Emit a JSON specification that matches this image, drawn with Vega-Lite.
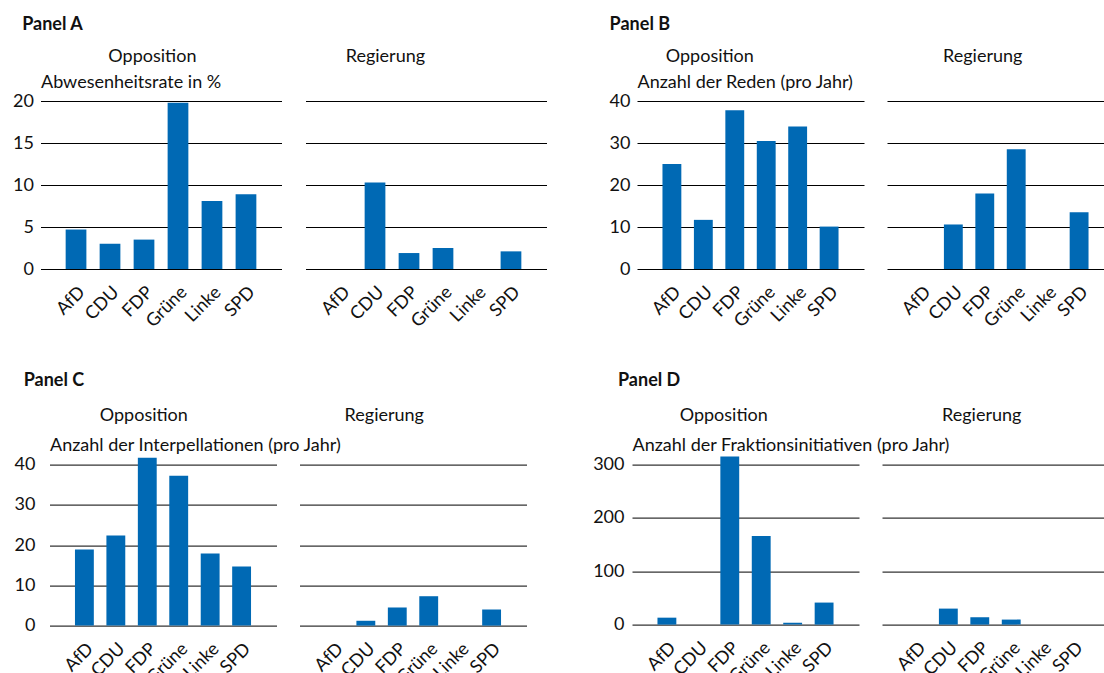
{
  "$schema": "https://vega.github.io/schema/vega-lite/v6.json",
  "padding": {"left": 11.5, "top": 15, "right": -11, "bottom": -8},
  "background": "white",
  "data": {"values": [
    {"panel": "A", "side": "Opposition", "party": "AfD", "value": 4.7},
    {"panel": "A", "side": "Opposition", "party": "CDU", "value": 3.0},
    {"panel": "A", "side": "Opposition", "party": "FDP", "value": 3.5},
    {"panel": "A", "side": "Opposition", "party": "Grüne", "value": 19.8},
    {"panel": "A", "side": "Opposition", "party": "Linke", "value": 8.1},
    {"panel": "A", "side": "Opposition", "party": "SPD", "value": 8.9},
    {"panel": "A", "side": "Regierung", "party": "AfD", "value": 0},
    {"panel": "A", "side": "Regierung", "party": "CDU", "value": 10.3},
    {"panel": "A", "side": "Regierung", "party": "FDP", "value": 1.9},
    {"panel": "A", "side": "Regierung", "party": "Grüne", "value": 2.5},
    {"panel": "A", "side": "Regierung", "party": "Linke", "value": 0},
    {"panel": "A", "side": "Regierung", "party": "SPD", "value": 2.1},
    {"panel": "B", "side": "Opposition", "party": "AfD", "value": 25.0},
    {"panel": "B", "side": "Opposition", "party": "CDU", "value": 11.7},
    {"panel": "B", "side": "Opposition", "party": "FDP", "value": 37.8},
    {"panel": "B", "side": "Opposition", "party": "Grüne", "value": 30.5},
    {"panel": "B", "side": "Opposition", "party": "Linke", "value": 33.9},
    {"panel": "B", "side": "Opposition", "party": "SPD", "value": 10.1},
    {"panel": "B", "side": "Regierung", "party": "AfD", "value": 0},
    {"panel": "B", "side": "Regierung", "party": "CDU", "value": 10.6},
    {"panel": "B", "side": "Regierung", "party": "FDP", "value": 18.0},
    {"panel": "B", "side": "Regierung", "party": "Grüne", "value": 28.5},
    {"panel": "B", "side": "Regierung", "party": "Linke", "value": 0},
    {"panel": "B", "side": "Regierung", "party": "SPD", "value": 13.5},
    {"panel": "C", "side": "Opposition", "party": "AfD", "value": 18.9},
    {"panel": "C", "side": "Opposition", "party": "CDU", "value": 22.4},
    {"panel": "C", "side": "Opposition", "party": "FDP", "value": 41.7},
    {"panel": "C", "side": "Opposition", "party": "Grüne", "value": 37.2},
    {"panel": "C", "side": "Opposition", "party": "Linke", "value": 17.9},
    {"panel": "C", "side": "Opposition", "party": "SPD", "value": 14.7},
    {"panel": "C", "side": "Regierung", "party": "AfD", "value": 0},
    {"panel": "C", "side": "Regierung", "party": "CDU", "value": 1.2},
    {"panel": "C", "side": "Regierung", "party": "FDP", "value": 4.5},
    {"panel": "C", "side": "Regierung", "party": "Grüne", "value": 7.3},
    {"panel": "C", "side": "Regierung", "party": "Linke", "value": 0},
    {"panel": "C", "side": "Regierung", "party": "SPD", "value": 4.0},
    {"panel": "D", "side": "Opposition", "party": "AfD", "value": 13},
    {"panel": "D", "side": "Opposition", "party": "CDU", "value": 0},
    {"panel": "D", "side": "Opposition", "party": "FDP", "value": 315},
    {"panel": "D", "side": "Opposition", "party": "Grüne", "value": 166},
    {"panel": "D", "side": "Opposition", "party": "Linke", "value": 3.5},
    {"panel": "D", "side": "Opposition", "party": "SPD", "value": 41.3},
    {"panel": "D", "side": "Regierung", "party": "AfD", "value": 0},
    {"panel": "D", "side": "Regierung", "party": "CDU", "value": 30},
    {"panel": "D", "side": "Regierung", "party": "FDP", "value": 13.8},
    {"panel": "D", "side": "Regierung", "party": "Grüne", "value": 9.4},
    {"panel": "D", "side": "Regierung", "party": "Linke", "value": 0},
    {"panel": "D", "side": "Regierung", "party": "SPD", "value": 0}
  ]},
  "spacing": 40.6,
  "vconcat": [
    {
      "spacing": 0,
      "hconcat": [
        {"width": 1, "height": 1, "transform": [{"filter": "false"}], "mark": {"type": "rule", "opacity": 0}, "encoding": {}},
        {
          "spacing": 62.5,
          "hconcat": [
            {
              "title": {"text": "Panel A", "anchor": "start", "fontWeight": "bold", "dx": 9.6, "offset": 14.3},
              "bounds": "flush",
              "spacing": 24,
              "hconcat": [
                {
                  "width": 241, "height": 168,
                  "title": {"text": "Opposition", "frame": "group", "dx": -8.6, "offset": 7.7},
                  "transform": [{"filter": "datum.panel === 'A' && datum.side === 'Opposition'"}],
                  "mark": {"type": "bar", "color": "#0069b4"},
                  "encoding": {
                    "x": {"field": "party", "type": "nominal", "scale": {"domain": ["AfD", "CDU", "FDP", "Grüne", "Linke", "SPD"], "paddingInner": 0.39, "paddingOuter": 0.74}, "axis": {"title": null}},
                    "y": {"field": "value", "type": "quantitative", "scale": {"domain": [0, 20], "nice": false}, "axis": {"values": [0, 5, 10, 15, 20], "labelPadding": 7, "title": "Abwesenheitsrate in %", "titleX": 0, "titleY": -13.1}}
                  }
                },
                {
                  "width": 241, "height": 168,
                  "title": {"text": "Regierung", "frame": "group", "dx": -40.6, "offset": 34.7},
                  "transform": [{"filter": "datum.panel === 'A' && datum.side === 'Regierung'"}],
                  "mark": {"type": "bar", "color": "#0069b4"},
                  "encoding": {
                    "x": {"field": "party", "type": "nominal", "scale": {"domain": ["AfD", "CDU", "FDP", "Grüne", "Linke", "SPD"], "paddingInner": 0.39, "paddingOuter": 0.74}, "axis": {"title": null}},
                    "y": {"field": "value", "type": "quantitative", "scale": {"domain": [0, 20], "nice": false}, "axis": {"values": [0, 5, 10, 15, 20], "labels": false, "title": null}}
                  }
                }
              ]
            },
            {
              "title": {"text": "Panel B", "anchor": "start", "fontWeight": "bold", "dx": 0.5, "offset": 14.3},
              "bounds": "flush",
              "spacing": 23,
              "hconcat": [
                {
                  "width": 227, "height": 168,
                  "title": {"text": "Opposition", "frame": "group", "dx": -40.7, "offset": 7.7},
                  "transform": [{"filter": "datum.panel === 'B' && datum.side === 'Opposition'"}],
                  "mark": {"type": "bar", "color": "#0069b4"},
                  "encoding": {
                    "x": {"field": "party", "type": "nominal", "scale": {"domain": ["AfD", "CDU", "FDP", "Grüne", "Linke", "SPD"], "paddingInner": 0.4, "paddingOuter": 0.81}, "axis": {"title": null}},
                    "y": {"field": "value", "type": "quantitative", "scale": {"domain": [0, 40], "nice": false}, "axis": {"values": [0, 10, 20, 30, 40], "labelPadding": 7, "title": "Anzahl der Reden (pro Jahr)", "titleX": 0, "titleY": -13.1}}
                  }
                },
                {
                  "width": 227, "height": 168,
                  "title": {"text": "Regierung", "frame": "group", "dx": -17.8, "offset": 34.7},
                  "transform": [{"filter": "datum.panel === 'B' && datum.side === 'Regierung'"}],
                  "mark": {"type": "bar", "color": "#0069b4"},
                  "encoding": {
                    "x": {"field": "party", "type": "nominal", "scale": {"domain": ["AfD", "CDU", "FDP", "Grüne", "Linke", "SPD"], "paddingInner": 0.4, "paddingOuter": 0.81}, "axis": {"title": null}},
                    "y": {"field": "value", "type": "quantitative", "scale": {"domain": [0, 40], "nice": false}, "axis": {"values": [0, 10, 20, 30, 40], "labels": false, "title": null}}
                  }
                }
              ]
            }
          ]
        }
      ]
    },
    {
      "spacing": 0,
      "hconcat": [
        {"width": 1.2, "height": 1, "transform": [{"filter": "false"}], "mark": {"type": "rule", "opacity": 0}, "encoding": {}},
        {
          "spacing": 65.5,
          "hconcat": [
            {
              "title": {"text": "Panel C", "anchor": "start", "fontWeight": "bold", "dx": 9.6, "offset": 16.7},
              "bounds": "flush",
              "spacing": 23,
              "hconcat": [
                {
                  "width": 227, "height": 161,
                  "title": {"text": "Opposition", "frame": "group", "dx": -19.2, "offset": 11},
                  "transform": [{"filter": "datum.panel === 'C' && datum.side === 'Opposition'"}],
                  "mark": {"type": "bar", "color": "#0069b4"},
                  "encoding": {
                    "x": {"field": "party", "type": "nominal", "scale": {"domain": ["AfD", "CDU", "FDP", "Grüne", "Linke", "SPD"], "paddingInner": 0.4, "paddingOuter": 0.81}, "axis": {"title": null}},
                    "y": {"field": "value", "type": "quantitative", "scale": {"domain": [0, 40], "nice": false}, "axis": {"values": [0, 10, 20, 30, 40], "labelPadding": 14.5, "title": "Anzahl der Interpellationen (pro Jahr)", "titleX": 0, "titleY": -14.5}}
                  }
                },
                {
                  "width": 227, "height": 161,
                  "title": {"text": "Regierung", "frame": "group", "dx": -28.7, "offset": 39.5},
                  "transform": [{"filter": "datum.panel === 'C' && datum.side === 'Regierung'"}],
                  "mark": {"type": "bar", "color": "#0069b4"},
                  "encoding": {
                    "x": {"field": "party", "type": "nominal", "scale": {"domain": ["AfD", "CDU", "FDP", "Grüne", "Linke", "SPD"], "paddingInner": 0.4, "paddingOuter": 0.81}, "axis": {"title": null}},
                    "y": {"field": "value", "type": "quantitative", "scale": {"domain": [0, 40], "nice": false}, "axis": {"values": [0, 10, 20, 30, 40], "labels": false, "title": null}}
                  }
                }
              ]
            },
            {
              "title": {"text": "Panel D", "anchor": "start", "fontWeight": "bold", "dx": 25.3, "offset": 16.7},
              "bounds": "flush",
              "spacing": 23,
              "hconcat": [
                {
                  "width": 227, "height": 160,
                  "title": {"text": "Opposition", "frame": "group", "dx": -21.8, "offset": 11},
                  "transform": [{"filter": "datum.panel === 'D' && datum.side === 'Opposition'"}],
                  "mark": {"type": "bar", "color": "#0069b4"},
                  "encoding": {
                    "x": {"field": "party", "type": "nominal", "scale": {"domain": ["AfD", "CDU", "FDP", "Grüne", "Linke", "SPD"], "paddingInner": 0.4, "paddingOuter": 0.81}, "axis": {"title": null}},
                    "y": {"field": "value", "type": "quantitative", "scale": {"domain": [0, 300], "nice": false}, "axis": {"values": [0, 100, 200, 300], "labelPadding": 8, "title": "Anzahl der Fraktionsinitiativen (pro Jahr)", "titleX": 0, "titleY": -14.5}}
                  }
                },
                {
                  "width": 227, "height": 160,
                  "title": {"text": "Regierung", "frame": "group", "dx": -13.8, "offset": 39.5},
                  "transform": [{"filter": "datum.panel === 'D' && datum.side === 'Regierung'"}],
                  "mark": {"type": "bar", "color": "#0069b4"},
                  "encoding": {
                    "x": {"field": "party", "type": "nominal", "scale": {"domain": ["AfD", "CDU", "FDP", "Grüne", "Linke", "SPD"], "paddingInner": 0.4, "paddingOuter": 0.81}, "axis": {"title": null}},
                    "y": {"field": "value", "type": "quantitative", "scale": {"domain": [0, 300], "nice": false}, "axis": {"values": [0, 100, 200, 300], "labels": false, "title": null}}
                  }
                }
              ]
            }
          ]
        }
      ]
    }
  ],
  "config": {
    "font": "Lato",
    "view": {"stroke": null},
    "title": {"font": "Lato", "fontSize": 18, "fontWeight": "normal", "color": "#111"},
    "axis": {"domain": false, "ticks": false, "labelFont": "Lato", "titleFont": "Lato", "labelFontSize": 18, "titleFontSize": 18, "labelColor": "#111", "titleColor": "#111", "titleFontWeight": "normal", "gridColor": "#000", "gridOpacity": 1, "gridWidth": 1},
    "axisX": {"labelAngle": -45, "labelPadding": 14, "grid": false},
    "axisY": {"grid": true, "titleAngle": 0, "titleAlign": "left", "titleBaseline": "alphabetic"}
  }
}
